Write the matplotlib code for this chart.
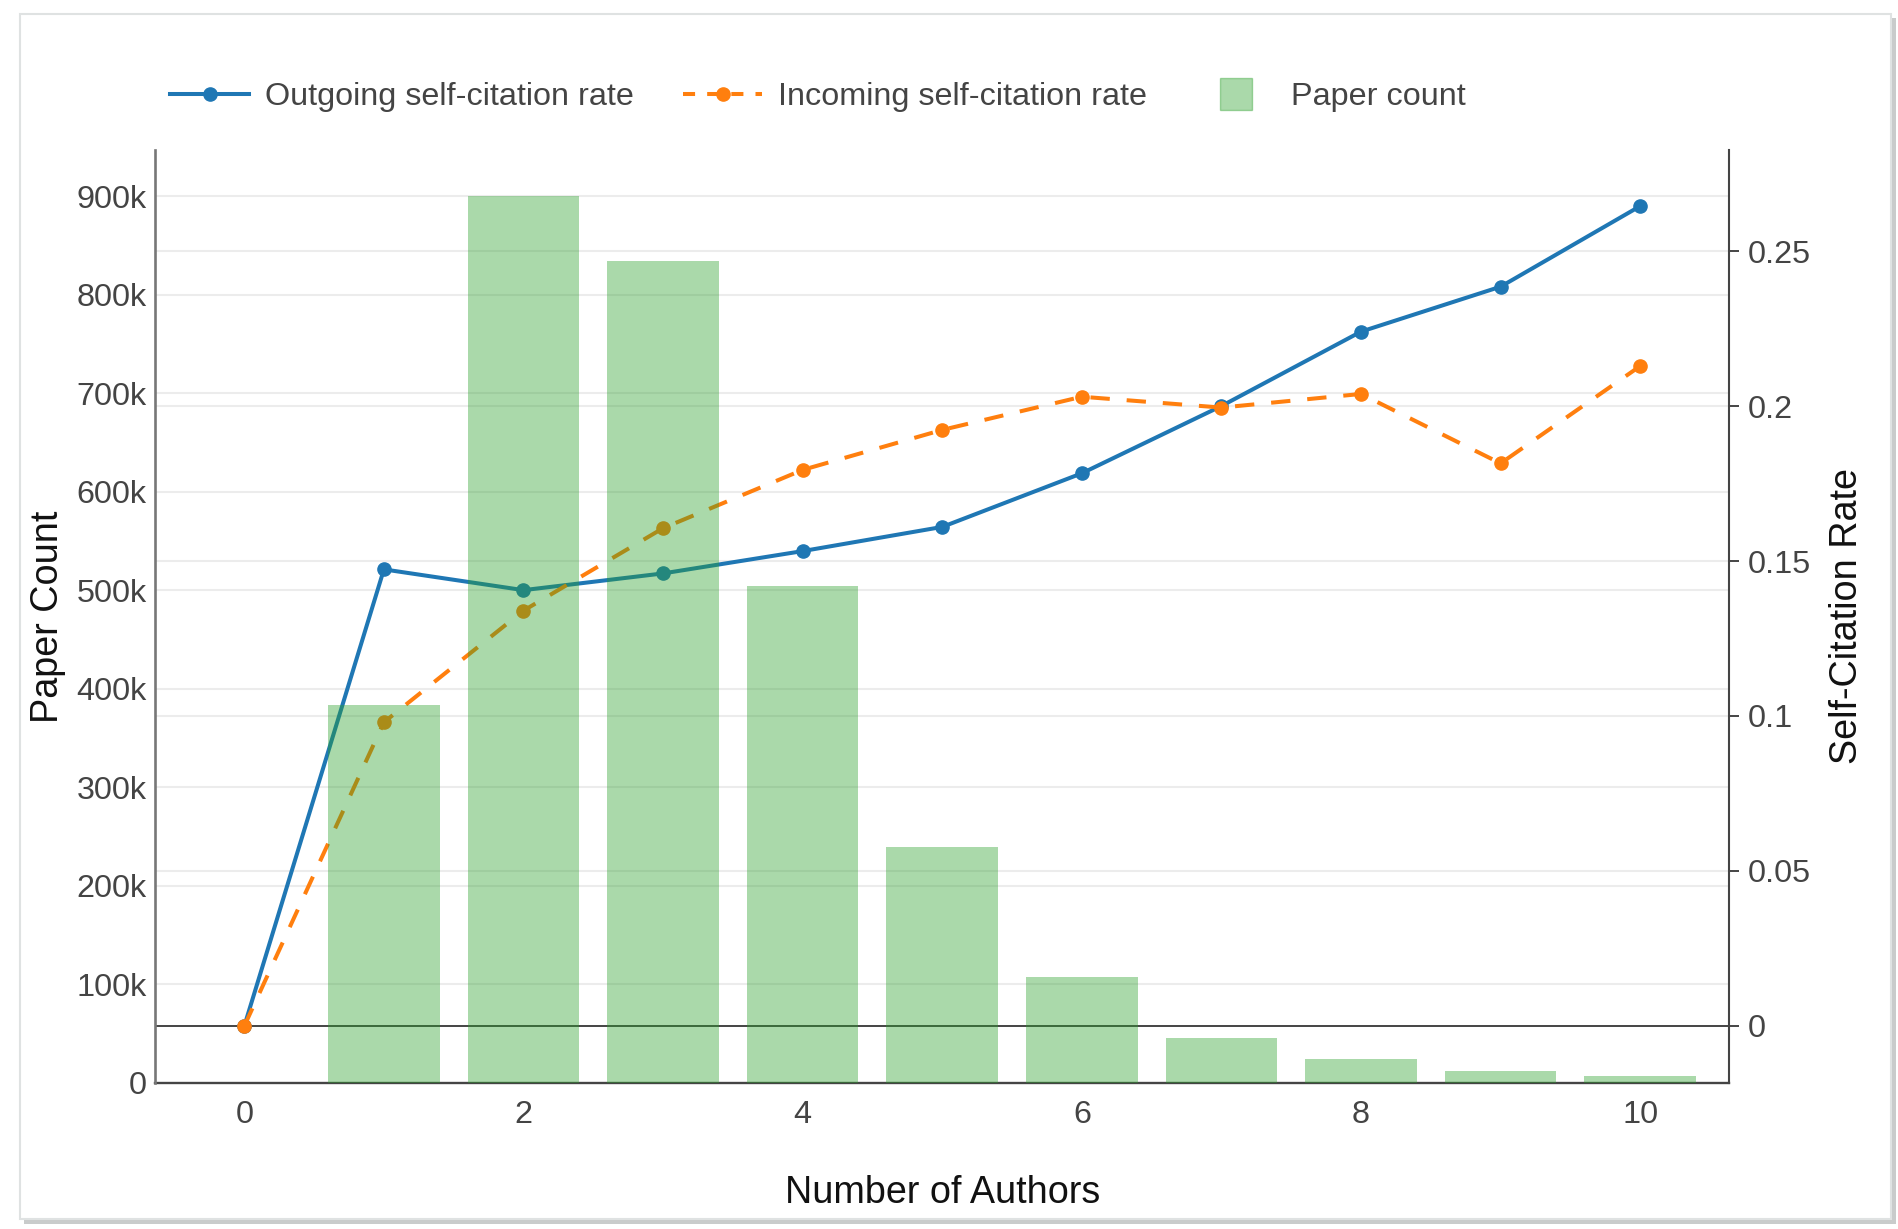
import numpy as np
import matplotlib
matplotlib.use("agg")
import matplotlib.pyplot as plt
import matplotlib.transforms as mtransforms
from matplotlib.lines import Line2D
from matplotlib.patches import Rectangle

plt.rcParams['font.family'] = ['Liberation Sans', 'DejaVu Sans']

# data
n_authors = [0, 1, 2, 3, 4, 5, 6, 7, 8, 9, 10]
outgoing_rate = [0.0, 0.1473, 0.1406, 0.1460, 0.1532, 0.1610, 0.1783, 0.2000, 0.2240, 0.2385, 0.2645]
incoming_rate = [0.0, 0.0980, 0.1340, 0.1606, 0.1794, 0.1923, 0.2030, 0.1995, 0.2039, 0.1815, 0.2129]
bar_authors = [1, 2, 3, 4, 5, 6, 7, 8, 9, 10]
paper_count = [384000, 900000, 834000, 504000, 240000, 108000, 46000, 24000, 12200, 7400]

count_ticks = [0, 100000, 200000, 300000, 400000, 500000, 600000, 700000, 800000, 900000]
count_labels = ['0', '100k', '200k', '300k', '400k', '500k', '600k', '700k', '800k', '900k']
rate_ticks = [0, 0.05, 0.1, 0.15, 0.2, 0.25]
rate_labels = ['0', '0.05', '0.1', '0.15', '0.2', '0.25']
x_ticks = [0, 2, 4, 6, 8, 10]

BLUE = '#1f77b4'
ORANGE = '#ff7f0e'
GREEN = '#2ca02c'
TICK_C = '#444444'
GRID_C = '#ececec'

W, H = 1899, 1229
fig = plt.figure(figsize=(W / 100, H / 100), dpi=100)
fig.patch.set_facecolor('white')

# card with a soft shadow
fig.add_artist(Rectangle((24 / W, 1 - 1224 / H), (1896 - 24) / W, (1224 - 18) / H,
                         transform=fig.transFigure, facecolor='#c9cbcb', edgecolor='none', zorder=-3))
fig.add_artist(Rectangle((20 / W, 1 - 1219 / H), (1891 - 20) / W, (1219 - 14) / H,
                         transform=fig.transFigure, facecolor='white', edgecolor='#dfe2e2', lw=1.5, zorder=-2))

# rate axis (lines) drawn first, bar axis on top of it
ax = fig.add_axes([155 / W, 1 - 1083 / H, (1729.5 - 155) / W, (1083 - 150) / H])
ax2 = ax.twinx()

ax.set_xlim(-0.64, 10.64)
ax.set_ylim(-0.0184, 0.2826)
ax2.set_ylim(0, 947000)

# gridlines for both scales, kept under the lines
blend = mtransforms.blended_transform_factory(ax.transAxes, ax2.transData)
for y in count_ticks[1:]:
    ax.plot([0, 1], [y, y], transform=blend, color=GRID_C, lw=1.5, zorder=0)
for y in rate_ticks[1:]:
    ax.axhline(y, color=GRID_C, lw=1.5, zorder=0)
ax.axhline(0, color=TICK_C, lw=1.4, zorder=1)

ax.plot(n_authors, outgoing_rate, color=BLUE, lw=2.9, marker='o', ms=9.5, zorder=3)
ax.plot(n_authors, incoming_rate, color=ORANGE, lw=2.9, ls=(0, (4.8, 4.2)), marker='o', ms=9.5, zorder=3)

ax2.bar(bar_authors, paper_count, width=0.8, color=GREEN, alpha=0.4, lw=0)

# axes styling
ax.yaxis.tick_right()
ax.yaxis.set_label_position('right')
ax2.yaxis.tick_left()
ax2.yaxis.set_label_position('left')

ax.set_xticks(x_ticks)
ax.set_xticklabels([str(t) for t in x_ticks])
ax.set_yticks(rate_ticks)
ax.set_yticklabels(rate_labels)
ax2.set_yticks(count_ticks)
ax2.set_yticklabels(count_labels)

ax.tick_params(axis='x', length=0, pad=12, labelsize=23.3, labelcolor=TICK_C)
ax.tick_params(axis='y', direction='out', length=7, width=1.4, color=TICK_C, pad=6,
               labelsize=23.3, labelcolor=TICK_C, right=True, left=False)
ax2.tick_params(axis='y', length=0, pad=6, labelsize=23.3, labelcolor=TICK_C)

for s in ['top', 'left']:
    ax.spines[s].set_visible(False)
ax.spines['right'].set_color(TICK_C)
ax.spines['right'].set_linewidth(1.5)
ax.spines['bottom'].set_color(TICK_C)
ax.spines['bottom'].set_linewidth(1.7)
for s in ['top', 'right', 'bottom']:
    ax2.spines[s].set_visible(False)
ax2.spines['left'].set_color('#777777')
ax2.spines['left'].set_linewidth(1.9)

ax.set_xlabel('Number of Authors', fontsize=27.2, color='#111111', va='center')
ax.xaxis.set_label_coords(0.5, -0.1179)
ax.set_ylabel('Self-Citation Rate', fontsize=27.2, color='#111111', va='center')
ax.yaxis.set_label_coords(1.0746, 0.5)
ax2.set_ylabel('Paper Count', fontsize=27.2, color='#111111', va='center')
ax2.yaxis.set_label_coords(-0.068, 0.5)

# legend across the top
handles = [
    Line2D([], [], color=BLUE, lw=2.9, marker='o', ms=9.5),
    Line2D([], [], color=ORANGE, lw=2.9, ls=(0, (3, 3)), marker='o', ms=9.5),
    Line2D([], [], color=GREEN, alpha=0.4, lw=0, marker='s', ms=23),
]
labels = ['Outgoing self-citation rate', 'Incoming self-citation rate', 'Paper count']
lgd = fig.legend(handles, labels, loc='center left', bbox_to_anchor=(170 / W, 1 - 97 / H),
                 ncol=3, frameon=False, fontsize=23.3, handlelength=2.45, handletextpad=0.5,
                 columnspacing=1.5, borderaxespad=0, borderpad=0)
for t in lgd.get_texts():
    t.set_color(TICK_C)

fig.savefig('out.png', dpi=100)
